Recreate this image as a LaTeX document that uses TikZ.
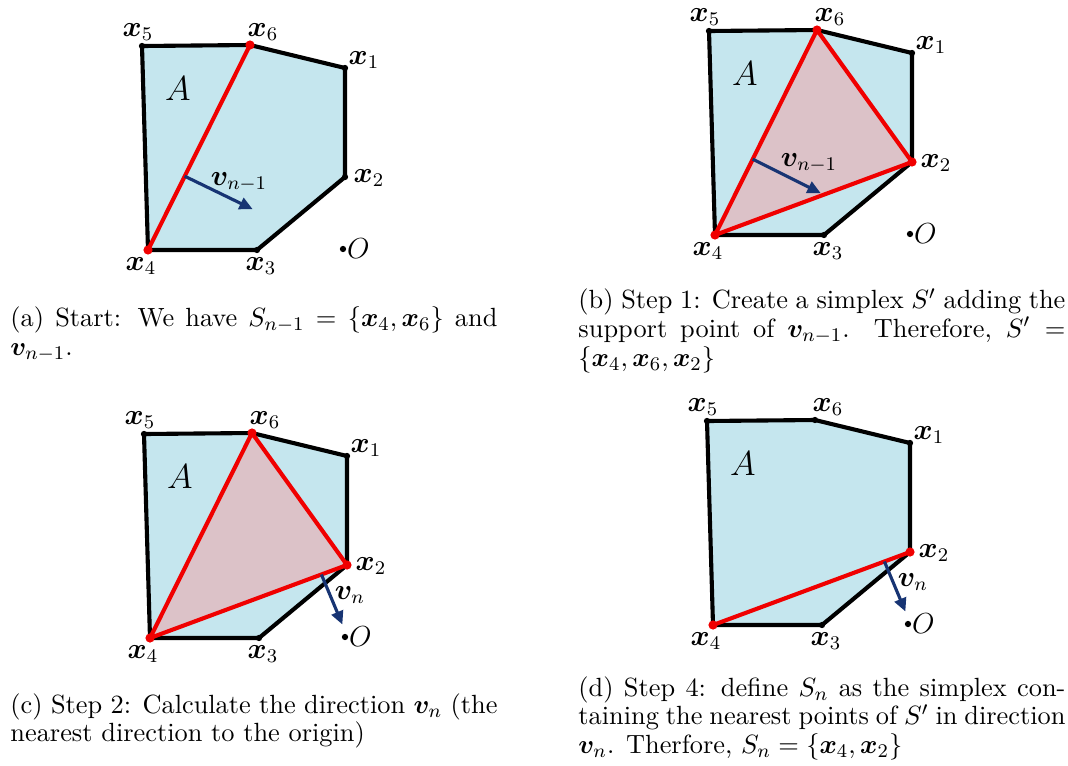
\documentclass[tikz,border=0pt]{standalone}
\usepackage{bm}
\usetikzlibrary{arrows.meta,calc}
\definecolor{HullBlue}{HTML}{C5E6EE}
\definecolor{SimplexRose}{HTML}{DCC2C8}
\definecolor{SimplexRed}{HTML}{F00000}
\definecolor{DirNavy}{HTML}{173473}

\begin{document}
\begin{tikzpicture}[x=0.414pt,y=-0.414pt,
  hull/.style={line width=1.7pt,line join=round},
  simplex/.style={SimplexRed,line width=1.7pt,line join=round},
  dir/.style={DirNavy,line width=1.3pt,-{Triangle[length=5.5pt,width=5pt]}},
  vlabel/.style={inner sep=0pt,font=\fontsize{11.5}{13}\selectfont},
  caption/.style={anchor=north west,inner sep=0pt,text width=201.6pt,align=justify,
    font=\fontsize{10.9}{11.9}\selectfont}]
  \useasboundingbox (0,0) rectangle (1068,765);
  \foreach \p/\sx/\sy in {a/0/0, b/567/-15, c/2/388, d/565/375}
  {
    \begin{scope}[shift={(\sx,\sy)}]
      \coordinate (\p-1) at (345,68);
      \coordinate (\p-2) at (345,177);
      \coordinate (\p-3) at (257,250);
      \coordinate (\p-4) at (148,250);
      \coordinate (\p-5) at (142,46);
      \coordinate (\p-6) at (250,45);
      \coordinate (\p-o) at (343,249);
      \fill[HullBlue] (\p-1) -- (\p-2) -- (\p-3) -- (\p-4) -- (\p-5) -- (\p-6) -- cycle;
      \draw[hull] (\p-1) -- (\p-2) -- (\p-3) -- (\p-4) -- (\p-5) -- (\p-6) -- cycle;
      \foreach \i in {1,...,6}
        \fill (\p-\i) circle (1.3pt);
      \fill (\p-o) circle (1.3pt);
      \node[vlabel] (\p-l1) at (364,60) {$\bm{x}_1$};
      \node[vlabel] (\p-l2) at (369,178) {$\bm{x}_2$};
      \node[vlabel] (\p-l3) at (261,266) {$\bm{x}_3$};
      \node[vlabel] (\p-l4) at (141,266) {$\bm{x}_4$};
      \node[vlabel] (\p-l5) at (138,32) {$\bm{x}_5$};
      \node[vlabel] (\p-l6) at (263,32) {$\bm{x}_6$};
      \node[anchor=west,inner sep=1.5pt,font=\fontsize{11.5}{13}\selectfont] (\p-lo) at (\p-o) {$O$};
      \node[font=\fontsize{14}{16}\selectfont] (\p-A) at (178,89) {$A$};
    \end{scope}
  }

  % (a)
  \draw[simplex] (a-4) -- (a-6);
  \fill[SimplexRed] (a-4) circle (1.9pt) (a-6) circle (1.9pt);
  \coordinate (a-t) at ($(a-4)!0.36!(a-6)$);
  \draw[dir] (a-t) -- ++(68,33) coordinate (a-h);
  \node[font=\fontsize{11.5}{13}\selectfont] (a-v) at (239,182) {$\bm{v}_{n-1}$};

  % (b)
  \fill[SimplexRose] (b-4) -- (b-6) -- (b-2) -- cycle;
  \draw[simplex] (b-4) -- (b-6) -- (b-2) -- cycle;
  \fill[SimplexRed] (b-4) circle (1.9pt) (b-6) circle (1.9pt) (b-2) circle (1.9pt);
  \coordinate (b-t) at ($(b-4)!0.37!(b-6)$);
  \draw[dir] (b-t) -- ++(68,34) coordinate (b-h);
  \node[font=\fontsize{11.5}{13}\selectfont] (b-v) at (809,163) {$\bm{v}_{n-1}$};

  % (c)
  \fill[SimplexRose] (c-4) -- (c-6) -- (c-2) -- cycle;
  \draw[simplex] (c-4) -- (c-6) -- (c-2) -- cycle;
  \fill[SimplexRed] (c-4) circle (1.9pt) (c-6) circle (1.9pt) (c-2) circle (1.9pt);
  \coordinate (c-t) at ($(c-4)!0.87!(c-2)$);
  \draw[dir] (c-t) -- ++(21,50) coordinate (c-h);
  \node[font=\fontsize{11.5}{13}\selectfont] (c-v) at (350,595) {$\bm{v}_n$};

  % (d)
  \draw[simplex] (d-4) -- (d-2);
  \fill[SimplexRed] (d-4) circle (1.9pt) (d-2) circle (1.9pt);
  \coordinate (d-t) at ($(d-4)!0.87!(d-2)$);
  \draw[dir] (d-t) -- ++(21,50) coordinate (d-h);
  \node[font=\fontsize{11.5}{13}\selectfont] (d-v) at (913,582) {$\bm{v}_n$};

  \node[caption] (cap-a) at (10,306) {(a) Start: We have $S_{n-1}=\{\bm{x}_4,\bm{x}_6\}$ and $\bm{v}_{n-1}$.};
  \node[caption] (cap-b) at (578,288) {(b) Step 1: Create a simplex $S'$ adding the support point of $\bm{v}_{n-1}$. Therefore, $S'=\{\bm{x}_4,\bm{x}_6,\bm{x}_2\}$};
  \node[caption] (cap-c) at (10,693) {(c) Step 2: Calculate the direction $\bm{v}_n$ (the nearest direction to the origin)};
  \node[caption] (cap-d) at (578,676) {(d) Step 4: define $S_n$ as the simplex containing the nearest points of $S'$ in direction $\bm{v}_n$. Therfore, $S_n=\{\bm{x}_4,\bm{x}_2\}$};
\end{tikzpicture}
\end{document}
